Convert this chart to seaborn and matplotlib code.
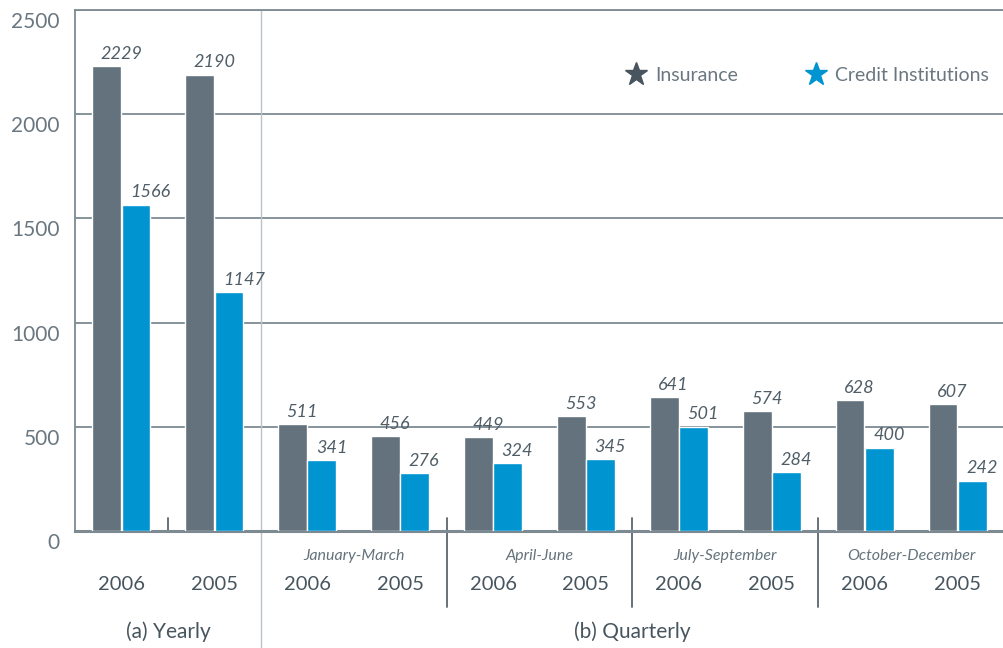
import numpy as np
import pandas as pd
import seaborn as sns
import matplotlib.pyplot as plt
from matplotlib.lines import Line2D
from matplotlib.transforms import ScaledTranslation

# data
slots = ['y2006', 'y2005', 'q1_2006', 'q1_2005', 'q2_2006', 'q2_2005',
         'q3_2006', 'q3_2005', 'q4_2006', 'q4_2005']
years = ['2006', '2005'] * 5
insurance = [2229, 2190, 511, 456, 449, 553, 641, 574, 628, 607]
credit = [1566, 1147, 341, 276, 324, 345, 501, 284, 400, 242]
quarters = ['January-March', 'April-June', 'July-September', 'October-December']
series = ['Insurance', 'Credit Institutions']

grey = '#63727c'
blue = '#0094d0'
text_dark = '#47555f'
text_mid = '#65737c'

df = pd.DataFrame({
    'slot': slots * 2,
    'value': insurance + credit,
    'series': [series[0]] * len(slots) + [series[1]] * len(slots),
})

sns.set_style('white')
plt.rcParams['font.family'] = ['Lato', 'DejaVu Sans']

fig = plt.figure(figsize=(10.04, 6.48), dpi=100)
ax = fig.add_axes([0.0747, 0.1806, 0.9253, 0.804])

sns.barplot(data=df, x='slot', y='value', hue='series', order=slots,
            hue_order=series, palette=[grey, blue], width=0.63, gap=0.015,
            saturation=1, legend=False, ax=ax, zorder=3)

ax.set_xlim(-0.5, 9.5)
ax.set_ylim(0, 2500)
ax.set_yticks([0, 500, 1000, 1500, 2000, 2500])
ax.set_xticks([])
ax.set_xlabel('')
ax.set_ylabel('')
ax.yaxis.grid(True, color='#7d8a92', lw=1.3, zorder=0)
ax.tick_params(axis='y', length=0, pad=11, labelsize=15, labelcolor='#6a7780')
for lab in ax.get_yticklabels():
    lab.set_transform(lab.get_transform() + ScaledTranslation(0, -0.1, fig.dpi_scale_trans))

for side in ['top', 'left']:
    ax.spines[side].set_color('#7d8a92')
    ax.spines[side].set_linewidth(1.3)
ax.spines['right'].set_visible(False)
ax.spines['bottom'].set_color('#7d8a92')
ax.spines['bottom'].set_linewidth(2.2)

# value labels
for bar in ax.patches:
    h = bar.get_height()
    if h <= 0:
        continue
    ax.annotate(f'{h:.0f}', (bar.get_x(), h), xytext=(6, 3),
                textcoords='offset points', ha='left', va='bottom',
                style='italic', fontsize=13, color='#4f5d67')

# separators
ax.axvline(1.5, ymin=-0.225, ymax=1, color='#b8c2c8', lw=1, clip_on=False, zorder=1)
ax.axvline(0.5, ymin=0, ymax=0.025, color='#5a6670', lw=1.3, clip_on=False)
for x in [3.5, 5.5, 7.5]:
    ax.axvline(x, ymin=-0.146, ymax=0.025, color='#5a6670', lw=1.3, clip_on=False)

# x labels
xt = ax.get_xaxis_transform()
for i, yr in enumerate(years):
    ax.text(i, -0.1036, yr, transform=xt, ha='center', va='center',
            fontsize=14.5, color=text_dark)
for j, q in enumerate(quarters):
    ax.text(2.5 + 2 * j, -0.048, q, transform=xt, ha='center', va='center',
            style='italic', fontsize=11.5, color=text_mid)
ax.text(0.5, -0.194, '(a) Yearly', transform=xt, ha='center', va='center',
        fontsize=15, color=text_dark)
ax.text(5.5, -0.194, '(b) Quarterly', transform=xt, ha='center', va='center',
        fontsize=15, color=text_dark)

# legend
handles = [Line2D([], [], ls='', marker='*', ms=17, color='#48545e', label=series[0]),
           Line2D([], [], ls='', marker='*', ms=17, color=blue, label=series[1])]
ax.legend(handles=handles, loc='upper right', bbox_to_anchor=(1.003, 0.925), ncol=2,
          frameon=False, fontsize=14, labelcolor='#6b7780', handletextpad=0.4,
          columnspacing=3.4, handlelength=1.2)

fig.savefig('out.png', dpi=100)
